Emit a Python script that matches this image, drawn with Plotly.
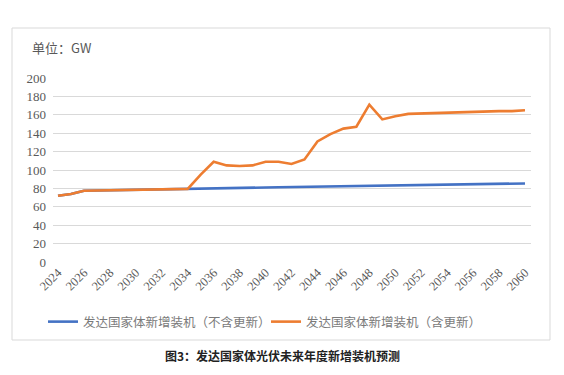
import plotly.graph_objects as go

years = list(range(2024, 2061))
without_renewal = [72, 74, 77.5, 77.8, 78, 78.2, 78.4, 78.7, 79, 79.2, 79.5,
                   79.8, 80.1, 80.4, 80.6, 80.8, 81, 81.2, 81.4, 81.6, 81.8,
                   82, 82.2, 82.4, 82.7, 83, 83.3, 83.5, 83.7, 83.9, 84.1,
                   84.3, 84.5, 84.7, 84.9, 85.1, 85.4]
with_renewal = [72, 74, 77.5, 77.8, 78, 78.2, 78.4, 78.7, 79, 79.2, 79.5,
                95, 109, 105, 104.4, 105, 109, 109, 106.5, 111.5, 131,
                139, 145, 147, 171, 155, 158.5, 161, 161.5, 162, 162.5,
                163, 163, 163.5, 164, 164, 165]
series_names = ["发达国家体新增装机（不含更新）", "发达国家体新增装机（含更新）"]
tick_years = list(range(2024, 2061, 2))
y_ticks = list(range(0, 201, 20))

OFF = 8  # page body margin
W, H = 564 - OFF, 375 - OFF
L, R, T, B = 53 - OFF, 33, 78 - OFF, 113
pw, ph = W - L - R, H - T - B

def px(x):
    return (x - OFF - L) / pw

def py(y):
    return (H - B - (y - OFF)) / ph

font_main = "Liberation Serif"
font_cjk = "Noto Sans CJK SC"

fig = go.Figure()
fig.add_trace(go.Scatter(x=years, y=without_renewal, mode="lines", name=series_names[0],
                         line=dict(color="#4472C4", width=2.6), legend="legend"))
fig.add_trace(go.Scatter(x=years, y=with_renewal, mode="lines", name=series_names[1],
                         line=dict(color="#ED7D31", width=2.6), legend="legend2"))

leg_common = dict(orientation="h", yanchor="middle", xanchor="left",
                  font=dict(size=12.5, color="#7a7a7a", family=font_cjk),
                  itemwidth=30, bgcolor="rgba(0,0,0,0)")

fig.update_layout(
    width=W, height=H,
    margin=dict(l=L, r=R, t=T, b=B),
    paper_bgcolor="white", plot_bgcolor="white",
    font=dict(family=font_main, color="#595959", size=12),
    showlegend=True,
    legend=dict(x=px(43), y=py(322), **leg_common),
    legend2=dict(x=px(266), y=py(322), **leg_common),
    xaxis=dict(range=[2024 - 5/12.97, 2060 + 6/12.97], tickmode="array",
               tickvals=tick_years, ticktext=[str(t) for t in tick_years],
               tickangle=-45, showgrid=False, zeroline=False, showline=False,
               ticks="", tickfont=dict(size=12.5, color="#595959", family=font_main)),
    yaxis=dict(range=[0, 200], tickmode="array", tickvals=y_ticks,
               showgrid=True, gridcolor="#d9d9d9", gridwidth=1, zeroline=False,
               showline=False, ticks="", ticklabelstandoff=6,
               tickfont=dict(size=13, color="#595959", family=font_main)),
    shapes=[dict(type="rect", xref="paper", yref="paper",
                 x0=px(12), x1=px(550), y0=py(340), y1=py(28),
                 line=dict(color="#d9d9d9", width=1), fillcolor="rgba(0,0,0,0)",
                 layer="below")],
    annotations=[
        dict(text="单位：GW", xref="paper", yref="paper", x=px(30), y=py(47),
             xanchor="left", yanchor="middle", showarrow=False,
             font=dict(size=13, color="#595959", family=font_cjk)),
        dict(text="<b>图3：发达国家体光伏未来年度新增装机预测</b>", xref="paper", yref="paper",
             x=px(282), y=py(355), xanchor="center", yanchor="middle", showarrow=False,
             font=dict(size=12, color="#222222", family=font_cjk)),
    ],
)

fig.write_html("out.html")
